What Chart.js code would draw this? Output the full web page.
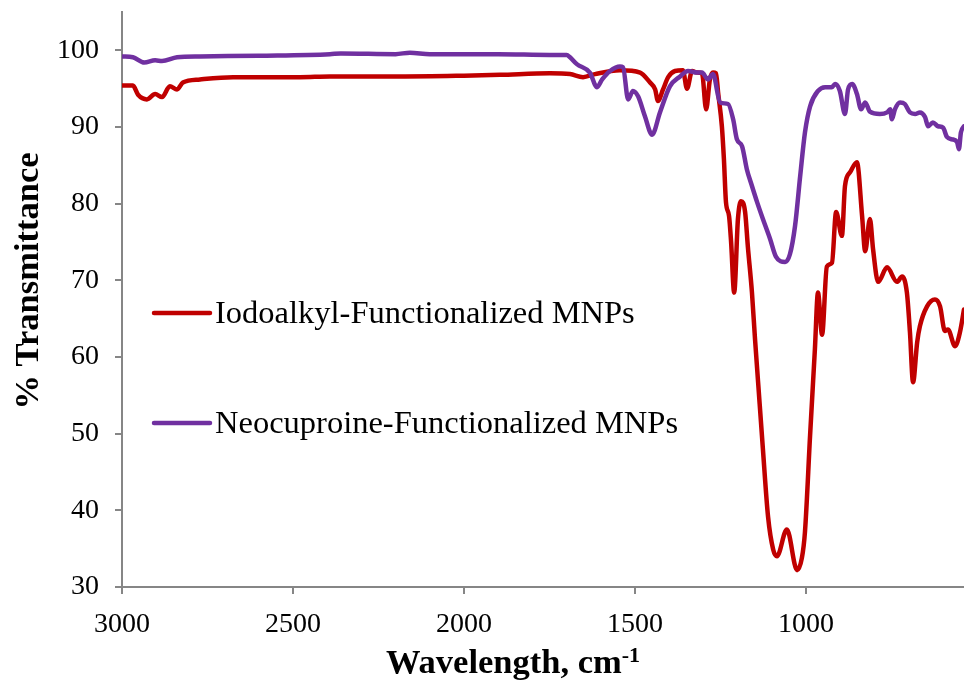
<!DOCTYPE html>
<html>
<head>
<meta charset="utf-8">
<script src="https://cdn.jsdelivr.net/npm/chart.js@4.4.1/dist/chart.umd.min.js"></script>
<style>
html,body{margin:0;padding:0;background:#ffffff;}
#wrap{width:964px;height:680px;position:relative;}
</style>
</head>
<body>
<div id="wrap"><canvas id="c" width="964" height="680"></canvas></div>
<script>
// ---------- data ----------
const seriesLabels = ["Iodoalkyl-Functionalized MNPs", "Neocuproine-Functionalized MNPs"];
const xTickValues = [3000, 2500, 2000, 1500, 1000];
const yTickValues = [30, 40, 50, 60, 70, 80, 90, 100];

const iodoWavenumber = [3000,2968,2953,2927,2903,2883,2860,2839,2822,2772,2675,2480,2392,2187,2000,1895,1749,1690,1652,1617,1544,1485,1456,1441,1433,1418,1403,1383,1360,1348,1333,1319,1304,1292,1281,1272,1263,1257,1246,1240,1234,1225,1219,1210,1199,1190,1178,1170,1158,1149,1140,1126,1111,1096,1085,1056,1026,1012,1003,988,974,965,953,939,924,912,895,886,871,851,836,827,813,804,789,763,734,719,705,696,687,675,667,646,623,608,594,585,564,550,538];
const iodoTransmittance = [95.4,95.4,94.2,93.6,94.3,93.9,95.3,94.9,95.8,96.2,96.5,96.5,96.6,96.6,96.7,96.8,97.0,96.9,96.5,96.9,97.4,97.1,95.8,94.9,93.4,94.9,96.5,97.3,97.4,95.0,97.3,97.1,97.0,92.3,96.2,97.1,97.0,94.5,90.1,85.8,80.2,78.4,75.0,68.4,78.0,80.3,78.9,74.4,68.4,62.3,56.7,48.0,39.2,34.9,34.0,37.5,32.2,33.8,37.2,49.8,61.0,68.4,62.9,71.8,72.3,78.9,75.8,82.3,84.1,85.4,78.4,73.8,78.0,74.1,69.8,71.7,69.8,70.5,68.4,63.2,56.7,61.9,64.0,66.6,67.5,66.6,63.4,63.6,61.4,63.2,66.2];

const neoWavenumber = [3000,2968,2935,2903,2883,2839,2772,2600,2392,2360,2200,2158,2100,1900,1749,1700,1690,1670,1632,1611,1596,1573,1544,1535,1520,1506,1491,1471,1450,1427,1398,1368,1345,1319,1304,1287,1272,1251,1228,1213,1202,1187,1173,1158,1143,1126,1105,1088,1061,1047,1032,1017,1003,988,965,944,924,915,901,886,877,865,851,839,827,813,784,763,754,749,740,725,711,696,681,667,652,643,629,614,599,588,573,558,553,547,538];
const neoTransmittance = [99.2,99.1,98.4,98.7,98.6,99.1,99.2,99.3,99.5,99.6,99.5,99.7,99.5,99.5,99.4,99.4,99.1,98.2,97.1,95.2,96.2,97.3,97.9,97.8,93.6,94.7,94.0,91.4,89.0,91.9,95.3,96.6,97.3,97.1,97.1,96.2,96.9,93.2,93.0,91.0,88.4,87.5,84.5,82.3,80.2,78.0,75.4,73.1,72.4,73.4,77.1,83.6,89.3,92.7,94.7,95.2,95.2,95.6,94.7,91.7,94.9,95.6,94.3,92.3,93.2,92.0,91.7,91.9,92.3,91.0,92.3,93.2,93.0,91.9,91.7,91.9,91.3,90.1,90.6,90.1,89.9,88.7,88.4,88.0,87.1,89.3,90.1];

// ---------- styles ----------
const RED = '#C00000';
const PURPLE = '#7030A0';
const AXIS = '#868686';
const SERIF = "'Liberation Serif', 'Times New Roman', serif";

const toPoints = (xs, ys) => xs.map((x, i) => ({ x: x, y: ys[i] }));

const legendPlugin = {
  id: 'insideLegend',
  afterDraw(chart) {
    const ctx = chart.ctx;
    const rows = [313, 423];
    ctx.save();
    chart.data.datasets.forEach((ds) => {
      const y = rows[ds.legendRow];
      ctx.strokeStyle = ds.borderColor;
      ctx.lineWidth = 4.5;
      ctx.lineCap = 'round';
      ctx.beginPath();
      ctx.moveTo(154, y);
      ctx.lineTo(210, y);
      ctx.stroke();
      ctx.fillStyle = '#000';
      ctx.font = '32.5px ' + SERIF;
      ctx.textBaseline = 'middle';
      ctx.textAlign = 'left';
      ctx.fillText(ds.label, 215, y + 1);
    });
    ctx.restore();
  }
};

const axisTitlePlugin = {
  id: 'axisTitles',
  afterDraw(chart) {
    const ctx = chart.ctx;
    ctx.save();
    ctx.fillStyle = '#000';
    ctx.translate(29, 281);
    ctx.rotate(-Math.PI / 2);
    ctx.font = 'bold 34.5px ' + SERIF;
    ctx.textAlign = 'center';
    ctx.textBaseline = 'middle';
    ctx.fillText('% Transmittance', 0, 0);
    ctx.restore();

    ctx.save();
    ctx.fillStyle = '#000';
    ctx.font = 'bold 34.5px ' + SERIF;
    const main = 'Wavelength, cm';
    const sup = '-1';
    const mw = ctx.measureText(main).width;
    ctx.font = 'bold 22px ' + SERIF;
    const sw = ctx.measureText(sup).width;
    const total = mw + sw;
    const cx = 513;
    const base = 673;
    ctx.textAlign = 'left';
    ctx.textBaseline = 'alphabetic';
    ctx.font = 'bold 34.5px ' + SERIF;
    ctx.fillText(main, cx - total / 2, base);
    ctx.font = 'bold 22px ' + SERIF;
    ctx.fillText(sup, cx - total / 2 + mw, base - 11);
    ctx.restore();
  }
};

const zeroPad = (s) => { s.paddingTop = 0; s.paddingBottom = 0; s.paddingLeft = 0; s.paddingRight = 0; };

new Chart(document.getElementById('c'), {
  type: 'line',
  data: {
    datasets: [
      {
        label: seriesLabels[0],
        data: toPoints(iodoWavenumber, iodoTransmittance),
        borderColor: RED,
        backgroundColor: RED,
        borderWidth: 4.5,
        pointRadius: 0,
        fill: false,
        cubicInterpolationMode: 'monotone',
        borderJoinStyle: 'round',
        borderCapStyle: 'round',
        order: 2,
        legendRow: 0
      },
      {
        label: seriesLabels[1],
        data: toPoints(neoWavenumber, neoTransmittance),
        borderColor: PURPLE,
        backgroundColor: PURPLE,
        borderWidth: 4.5,
        pointRadius: 0,
        fill: false,
        cubicInterpolationMode: 'monotone',
        borderJoinStyle: 'round',
        borderCapStyle: 'round',
        order: 1,
        legendRow: 1
      }
    ]
  },
  options: {
    responsive: false,
    animation: false,
    devicePixelRatio: 1,
    layout: { padding: { top: 12, right: 0, left: 0, bottom: 0 } },
    plugins: {
      legend: { display: false },
      tooltip: { enabled: false },
      title: { display: false }
    },
    scales: {
      x: {
        type: 'linear',
        reverse: true,
        min: 538,
        max: 3000,
        afterBuildTicks: (s) => { s.ticks = xTickValues.map(v => ({ value: v })); },
        afterFit: (s) => { s.height = 93; zeroPad(s); },
        grid: { display: true, drawOnChartArea: false, drawTicks: true, tickLength: 7, color: AXIS, lineWidth: 2 },
        border: { display: true, color: AXIS, width: 2 },
        ticks: { color: '#000', font: { family: SERIF, size: 28 }, padding: 14, maxRotation: 0, autoSkip: false, callback: (v) => String(v) }
      },
      y: {
        type: 'linear',
        min: 30,
        max: 105,
        afterBuildTicks: (s) => { s.ticks = yTickValues.map(v => ({ value: v })); },
        afterFit: (s) => { s.width = 122; zeroPad(s); },
        grid: { display: true, drawOnChartArea: false, drawTicks: true, tickLength: 7, color: AXIS, lineWidth: 2 },
        border: { display: true, color: AXIS, width: 2 },
        ticks: { color: '#000', font: { family: SERIF, size: 28 }, padding: 16, autoSkip: false, callback: (v) => String(v) }
      }
    }
  },
  plugins: [legendPlugin, axisTitlePlugin]
});
</script>
</body>
</html>
